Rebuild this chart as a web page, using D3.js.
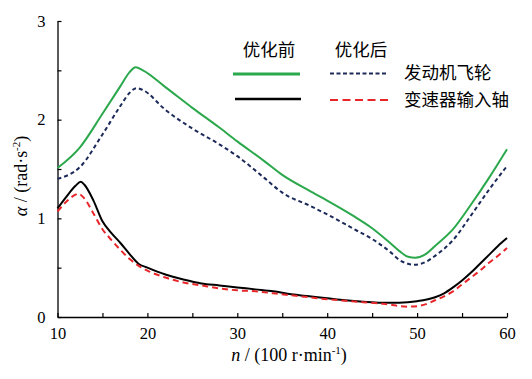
<!DOCTYPE html>
<html>
<head>
<meta charset="utf-8">
<script src="https://cdn.jsdelivr.net/npm/d3@7"></script>
<style>
  html, body { margin: 0; padding: 0; background: #fff; }
  svg { display: block; }
  .num { font-family: "Liberation Serif", "Times New Roman", serif; font-size: 16.5px; fill: #000; }
  .ttl { font-family: "Liberation Serif", "Times New Roman", serif; font-size: 18px; fill: #000; }
  .cjk { font-family: "Noto Sans CJK SC", sans-serif; font-size: 17.5px; fill: #000; }
</style>
</head>
<body>
<svg id="chart" width="532" height="379"></svg>
<script>
// ---- data (n in 100 r/min, alpha in rad/s^2) ----
const flywheelBeforeN = [10, 12.5, 15, 17, 18, 18.7, 19.5, 22, 25, 28, 30, 33, 35, 38, 40, 43, 45, 47, 48, 49, 49.8, 51, 52, 54, 56, 58, 60];
const flywheelBefore  = [1.51, 1.72, 2.06, 2.34, 2.48, 2.53, 2.50, 2.33, 2.12, 1.92, 1.78, 1.58, 1.44, 1.28, 1.18, 1.02, 0.90, 0.75, 0.67, 0.61, 0.60, 0.64, 0.72, 0.89, 1.14, 1.41, 1.70];

const flywheelAfterN = [10, 12.5, 15, 17, 18, 18.8, 19.5, 22, 25, 28, 30, 33, 35, 38, 40, 43, 45, 47, 48, 49, 49.7, 51, 52, 54, 56, 58, 60];
const flywheelAfter  = [1.40, 1.52, 1.85, 2.14, 2.27, 2.32, 2.30, 2.10, 1.91, 1.75, 1.63, 1.41, 1.26, 1.13, 1.04, 0.89, 0.79, 0.66, 0.58, 0.54, 0.53, 0.56, 0.62, 0.78, 1.03, 1.29, 1.53];

const gearboxBeforeN = [10, 11, 12, 12.6, 13, 14, 15, 16, 17, 18, 19, 20, 22, 24, 26, 28, 30, 32, 34, 36, 38, 40, 42, 44, 46, 48, 50, 52, 53, 54, 55, 56, 57, 58, 59, 60];
const gearboxBefore  = [1.10, 1.22, 1.33, 1.37, 1.34, 1.18, 0.97, 0.85, 0.75, 0.64, 0.54, 0.50, 0.43, 0.38, 0.34, 0.32, 0.30, 0.28, 0.26, 0.23, 0.21, 0.19, 0.17, 0.155, 0.145, 0.145, 0.16, 0.20, 0.24, 0.30, 0.37, 0.45, 0.54, 0.63, 0.72, 0.80];

const gearboxAfterN = [10, 11, 12, 12.3, 13, 14, 15, 16, 17, 18, 19, 20, 22, 24, 26, 28, 30, 32, 34, 36, 38, 40, 42, 44, 46, 47, 48, 49, 50, 51, 52, 53, 54, 55, 56, 57, 58, 59, 60];
const gearboxAfter  = [1.07, 1.17, 1.24, 1.25, 1.20, 1.05, 0.89, 0.78, 0.68, 0.59, 0.52, 0.47, 0.40, 0.35, 0.32, 0.29, 0.27, 0.26, 0.24, 0.22, 0.20, 0.18, 0.165, 0.15, 0.135, 0.125, 0.11, 0.105, 0.11, 0.13, 0.17, 0.21, 0.26, 0.33, 0.40, 0.47, 0.55, 0.62, 0.70];

const xTicks = [10, 15, 20, 25, 30, 35, 40, 45, 50, 55, 60];
const yTicks = [0, 0.5, 1, 1.5, 2, 2.5, 3];
const legendHeaders = ["优化前", "优化后"];
const legendRows = ["发动机飞轮", "变速器输入轴"];

// ---- layout ----
const svg = d3.select("#chart");
const x = d3.scaleLinear().domain([10, 60]).range([57.5, 507]);
const y = d3.scaleLinear().domain([0, 3]).range([317, 21]);

// axes
const xAxis = d3.axisBottom(x).tickValues(xTicks).tickSizeInner(-4).tickSizeOuter(0)
  .tickPadding(10).tickFormat(d => d % 10 === 0 ? d : "");
const yAxis = d3.axisLeft(y).tickValues(yTicks).tickSizeInner(-4).tickSizeOuter(0)
  .tickPadding(12).tickFormat(d => Number.isInteger(d) ? d : "");

const gx = svg.append("g").attr("transform", `translate(0,${y(0)})`).call(xAxis);
const gy = svg.append("g").attr("transform", `translate(${x(10)},0)`).call(yAxis);
[gx, gy].forEach(g => {
  g.select(".domain").attr("stroke", "#000").attr("stroke-width", 1.3);
  g.selectAll(".tick line").attr("stroke", "#000").attr("stroke-width", 1.2);
  g.selectAll(".tick text").attr("class", "num").attr("font-family", null).attr("font-size", null).attr("fill", "#000");
});

// axis titles
const xt = svg.append("text").attr("class", "ttl").attr("x", 289).attr("y", 361).attr("text-anchor", "middle");
xt.append("tspan").attr("font-style", "italic").text("n");
xt.append("tspan").text(" / (100 r·min");
xt.append("tspan").attr("font-size", "11px").attr("dy", -7).text("-1");
xt.append("tspan").attr("dy", 7).text(")");

const yt = svg.append("text").attr("class", "ttl").attr("transform", "translate(27,176) rotate(-90)").attr("text-anchor", "middle");
yt.append("tspan").attr("font-style", "italic").text("α");
yt.append("tspan").text(" / (rad·s");
yt.append("tspan").attr("font-size", "11px").attr("dy", -7).text("-2");
yt.append("tspan").attr("dy", 7).text(")");

// series
const series = [
  { n: flywheelBeforeN, v: flywheelBefore, color: "#2ca84c", width: 2, dash: null },
  { n: flywheelAfterN,  v: flywheelAfter,  color: "#1c2a5a", width: 2, dash: "4,3" },
  { n: gearboxBeforeN,  v: gearboxBefore,  color: "#000000", width: 2, dash: null },
  { n: gearboxAfterN,   v: gearboxAfter,   color: "#e8262a", width: 2, dash: "6,4" }
];
const line = d3.line().x(d => x(d[0])).y(d => y(d[1])).curve(d3.curveMonotoneX);
series.forEach(s => {
  svg.append("path")
    .datum(s.n.map((n, i) => [n, s.v[i]]))
    .attr("d", line)
    .attr("fill", "none")
    .attr("stroke", s.color)
    .attr("stroke-width", s.width)
    .attr("stroke-dasharray", s.dash)
    .attr("stroke-linejoin", "round");
});

// legend
const lg = svg.append("g");
lg.append("text").attr("class", "cjk").attr("x", 269).attr("y", 56).attr("text-anchor", "middle").text(legendHeaders[0]);
lg.append("text").attr("class", "cjk").attr("x", 361).attr("y", 56).attr("text-anchor", "middle").text(legendHeaders[1]);
lg.append("line").attr("x1", 233).attr("x2", 300).attr("y1", 74).attr("y2", 74).attr("stroke", "#2ca84c").attr("stroke-width", 3);
lg.append("line").attr("x1", 330).attr("x2", 388).attr("y1", 73.5).attr("y2", 73.5).attr("stroke", "#1c2a5a").attr("stroke-width", 2).attr("stroke-dasharray", "4,2.5");
lg.append("line").attr("x1", 235).attr("x2", 301).attr("y1", 99).attr("y2", 99).attr("stroke", "#000").attr("stroke-width", 2.6);
lg.append("line").attr("x1", 330).attr("x2", 388).attr("y1", 100).attr("y2", 100).attr("stroke", "#e8262a").attr("stroke-width", 2).attr("stroke-dasharray", "8,4.5");
lg.append("text").attr("class", "cjk").attr("x", 404).attr("y", 79).text(legendRows[0]);
lg.append("text").attr("class", "cjk").attr("x", 404).attr("y", 106).text(legendRows[1]);
</script>
</body>
</html>
